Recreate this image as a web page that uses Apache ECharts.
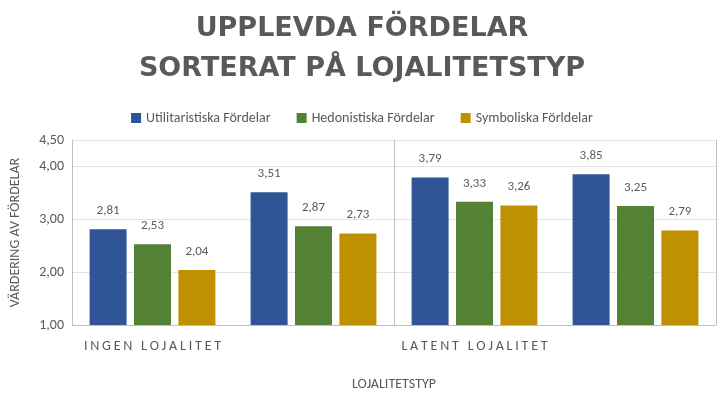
<!DOCTYPE html>
<html><head><meta charset="utf-8">
<script src="https://cdn.jsdelivr.net/npm/echarts@6/dist/echarts.min.js"></script>
<style>html,body{margin:0;background:#fff}#c{width:724px;height:407px}</style>
</head><body><div id="c"></div>
<script>
const categories = ['INGEN LOJALITET', 'FALSK LOJALITET', 'LATENT LOJALITET', 'SANN LOJALITET'];
const seriesNames = ['Utilitaristiska Fördelar', 'Hedonistiska Fördelar', 'Symboliska Förldelar'];
const utilitaristiska = [2.81, 3.51, 3.79, 3.85];
const hedonistiska = [2.53, 2.87, 3.33, 3.25];
const symboliska = [2.04, 2.73, 3.26, 2.79];
const colors = ['#2F5597', '#548235', '#BF9000'];

const chart = echarts.init(document.getElementById('c'));
const fmt = v => v.toFixed(2).replace('.', ',');
const mk = (name, data, i) => ({
    name, type: 'bar', data, barWidth: 37, barGap: '20%',
    itemStyle: { color: colors[i] },
    label: { show: true, position: 'top', distance: 12, color: '#595959', fontSize: 13,
        formatter: p => fmt(p.value) }
});
chart.setOption({
    textStyle: { fontFamily: 'Calibri, Carlito, "Liberation Sans", sans-serif' },
    title: {
        text: 'UPPLEVDA FÖRDELAR\nSORTERAT PÅ LOJALITETSTYP', left: 'center', top: 4,
        textStyle: { color: '#595959', fontSize: 27, fontWeight: 'bold', lineHeight: 40,
            fontFamily: '"DejaVu Sans", sans-serif' }
    },
    legend: {
        top: 106, left: 'center', itemWidth: 10, itemHeight: 10, itemGap: 26,
        textStyle: { color: '#595959', fontSize: 14 }, icon: 'rect'
    },
    grid: { left: 70, right: 8, top: 140, bottom: 82 },
    xAxis: {
        type: 'category', data: categories,
        name: 'LOJALITETSTYP', nameLocation: 'middle', nameGap: 52,
        nameTextStyle: { color: '#595959', fontSize: 14 },
        axisLine: { lineStyle: { color: '#bfbfbf' } },
        axisTick: { show: false },
        splitLine: { show: true, lineStyle: { color: '#bfbfbf' } },
        axisLabel: { color: '#595959', fontSize: 14, margin: 14,
            formatter: v => v.split('').join('\u2009') }
    },
    yAxis: {
        type: 'value', min: 1, max: 4.5, interval: 1,
        name: 'VÄRDERING AV FÖRDELAR', nameLocation: 'middle', nameGap: 50,
        nameTextStyle: { color: '#595959', fontSize: 14 },
        axisLine: { show: true, lineStyle: { color: '#bfbfbf' } },
        axisLabel: { color: '#595959', fontSize: 14, formatter: v => fmt(v) },
        splitLine: { lineStyle: { color: '#e3e3e3' } }
    },
    series: [
        mk(seriesNames[0], utilitaristiska, 0),
        mk(seriesNames[1], hedonistiska, 1),
        mk(seriesNames[2], symboliska, 2)
    ]
});
</script></body></html>
